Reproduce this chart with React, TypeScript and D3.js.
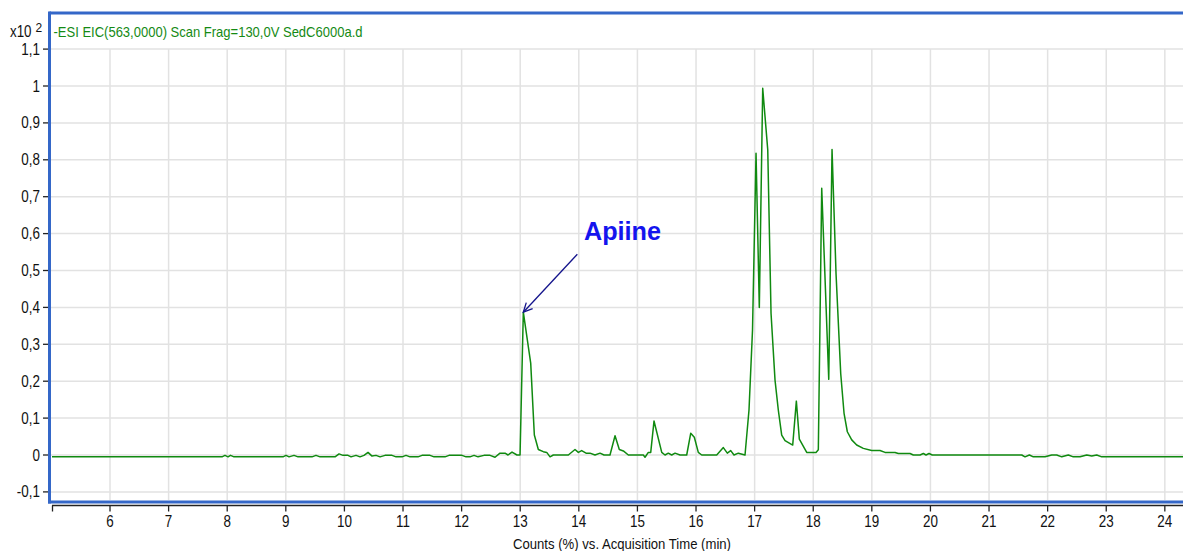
import React from "react";
import * as d3 from "d3";

// ---- data (x: acquisition time in min, y: counts x10^2) ----
const timesMin = [
  5.01, 7.911, 7.962, 8.014, 8.056, 8.116, 8.952, 9.003, 9.055, 9.14, 9.208, 9.447, 9.515, 9.584,
  9.84, 9.908, 9.976, 10.061, 10.113, 10.198, 10.266, 10.334, 10.403, 10.471, 10.539, 10.608,
  10.693, 10.812, 10.881, 10.983, 11.051, 11.119, 11.256, 11.324, 11.461, 11.529, 11.717, 11.785,
  12.007, 12.075, 12.143, 12.212, 12.28, 12.382, 12.485, 12.57, 12.655, 12.741, 12.792, 12.86,
  12.945, 12.997,
  13.053, 13.179, 13.241, 13.309, 13.394, 13.452, 13.509, 13.565, 13.821, 13.935, 13.992, 14.049,
  14.123, 14.191, 14.276, 14.362, 14.43, 14.532, 14.618, 14.691, 14.76, 14.845, 15.101, 15.13,
  15.186, 15.227, 15.283, 15.415, 15.471, 15.527, 15.585, 15.642, 15.727, 15.841, 15.91, 15.971,
  16.039, 16.097, 16.353, 16.466, 16.534, 16.592, 16.648, 16.722, 16.836,
  16.904, 16.964, 17.024, 17.08, 17.138, 17.224, 17.28, 17.348, 17.404, 17.462, 17.519, 17.65,
  17.712, 17.763, 17.889, 18.048, 18.087, 18.145, 18.265, 18.321, 18.389, 18.469, 18.526, 18.582,
  18.657, 18.742, 18.855, 18.998, 19.14, 19.225, 19.396, 19.452, 19.652, 19.708, 19.823, 19.879,
  19.925, 19.976, 20.032, 21.558, 21.614, 21.688, 21.756, 21.956, 22.07, 22.155, 22.241, 22.353,
  22.438, 22.553, 22.667, 22.753, 22.838, 22.923, 24.31,
];
const countsE2 = [
  -0.005, -0.005, -0.001, -0.005, -0.001, -0.005, -0.005, -0.001, -0.005, -0.001, -0.005, -0.005,
  -0.001, -0.005, -0.005, 0.003, -0.001, -0.001, -0.005, -0.001, -0.005, -0.001, 0.007, -0.003,
  -0.001, -0.005, -0.001, -0.001, -0.005, -0.005, -0.001, -0.005, -0.005, -0.001, -0.001, -0.005,
  -0.005, -0.001, -0.001, -0.005, -0.005, -0.001, -0.005, -0.001, -0.001, -0.006, 0.005, 0.005,
  0.0, 0.008, 0.0, 0.0,
  0.387, 0.249, 0.054, 0.015, 0.009, 0.007, -0.005, 0.0, 0.0, 0.015, 0.007, 0.012, 0.005, 0.005,
  0.0, 0.005, 0.0, 0.0, 0.052, 0.015, 0.011, 0.0, 0.0, -0.006, 0.007, 0.007, 0.092, 0.007, 0.0,
  0.005, 0.0, 0.005, 0.0, 0.0, 0.059, 0.048, 0.007, 0.0, 0.0, 0.02, 0.005, 0.012, 0.0, 0.005, 0.0,
  0.122, 0.339, 0.818, 0.4, 0.994, 0.827, 0.384, 0.203, 0.122, 0.054, 0.039, 0.027, 0.146, 0.043,
  0.007, 0.007, 0.014, 0.723, 0.205, 0.828, 0.492, 0.221, 0.113, 0.063, 0.041, 0.027, 0.018,
  0.012, 0.012, 0.007, 0.007, 0.004, 0.004, 0.0, 0.0, 0.004, 0.0, 0.004, 0.0, 0.0, -0.005, 0.0,
  -0.005, -0.005, 0.0, 0.0, -0.005, 0.0, -0.005, -0.005, 0.0, -0.003, 0.0, -0.005, -0.005,
];
const xTicks = [6, 7, 8, 9, 10, 11, 12, 13, 14, 15, 16, 17, 18, 19, 20, 21, 22, 23, 24];
const yTicks = [-0.1, 0, 0.1, 0.2, 0.3, 0.4, 0.5, 0.6, 0.7, 0.8, 0.9, 1.0, 1.1];
const yTickLabels = ["-0,1", "0", "0,1", "0,2", "0,3", "0,4", "0,5", "0,6", "0,7", "0,8", "0,9", "1", "1,1"];
const titleText = "-ESI EIC(563,0000) Scan Frag=130,0V SedC6000a.d";
const xAxisTitle = "Counts (%) vs. Acquisition Time (min)";
const annotationText = "Apiine";
const annotationTime = 13.053;
const annotationValue = 0.387;

const W = 1183;
const H = 551;
const FONT = "'Liberation Sans', Arial, sans-serif";
const NARROW = 0.84;

export default function App() {
  const x = d3.scaleLinear().domain([4.976, 24.31]).range([50, 1183]);
  const y = d3.scaleLinear().domain([-0.1, 1.1]).range([491.9, 49.1]);
  const pts: [number, number][] = timesMin.map((t, i) => [t, countsE2[i]]);
  const line = d3
    .line<[number, number]>()
    .x((d) => x(d[0]))
    .y((d) => y(d[1]));

  const ax = x(annotationTime);
  const ay = y(annotationValue);
  const sx = ax + 54;
  const sy = ay - 58;
  const ang = Math.atan2(sy - ay, sx - ax);
  const hl = 10;
  const h1 = [ax + hl * Math.cos(ang + 0.45), ay + hl * Math.sin(ang + 0.45)];
  const h2 = [ax + hl * Math.cos(ang - 0.45), ay + hl * Math.sin(ang - 0.45)];

  const axisY = 505.5;

  return (
    <svg
      width={W}
      height={H}
      style={{ position: "absolute", left: 0, top: 0, background: "#fff" }}
      fontFamily={FONT}
    >
      {/* grid */}
      <g stroke="#e2e2e2" strokeWidth={1.5}>
        {xTicks.map((t) => (
          <line key={"gx" + t} x1={x(t)} x2={x(t)} y1={y(1.1)} y2={500} />
        ))}
        {yTicks.map((v) => (
          <line key={"gy" + v} x1={51} x2={W} y1={y(v)} y2={y(v)} />
        ))}
      </g>

      {/* trace */}
      <path d={line(pts) || ""} fill="none" stroke="#108a10" strokeWidth={1.5} strokeLinejoin="round" />

      {/* frame */}
      <g stroke="#3467c8" strokeWidth={3} fill="none">
        <line x1={49.5} x2={W} y1={13} y2={13} />
        <line x1={49.5} x2={49.5} y1={11.5} y2={503.5} />
        <line x1={48} x2={W} y1={502} y2={502} />
      </g>

      {/* y axis ticks */}
      <g>
        {yTicks.map((v, i) => (
          <g key={"yt" + v}>
            <line x1={43} x2={48} y1={y(v)} y2={y(v)} stroke="#222" strokeWidth={1.3} />
            <text
              transform={`translate(40,${y(v) + 5.5}) scale(${NARROW},1)`}
              textAnchor="end"
              fontSize={16}
              fill="#111"
            >
              {yTickLabels[i]}
            </text>
          </g>
        ))}
      </g>

      {/* x axis */}
      <line x1={52} x2={W} y1={axisY} y2={axisY} stroke="#222" strokeWidth={1.5} />
      <line x1={52.5} x2={52.5} y1={axisY} y2={axisY + 6} stroke="#222" strokeWidth={1.3} />
      {xTicks.map((t) => (
        <g key={"xt" + t}>
          <line x1={x(t)} x2={x(t)} y1={axisY} y2={axisY + 6} stroke="#222" strokeWidth={1.3} />
          <text
            transform={`translate(${x(t)},527) scale(${NARROW},1)`}
            textAnchor="middle"
            fontSize={16}
            fill="#111"
          >
            {t}
          </text>
        </g>
      ))}
      <text x={513} y={549} fontSize={15} fill="#111" textLength={218} lengthAdjust="spacingAndGlyphs">
        {xAxisTitle}
      </text>

      {/* scale label */}
      <text x={10} y={37} fontSize={16} fill="#111" textLength={21.5} lengthAdjust="spacingAndGlyphs">
        x10
      </text>
      <text x={35.5} y={32} fontSize={12} fill="#111">
        2
      </text>

      {/* title */}
      <text x={53.5} y={36.5} fontSize={15} fill="#148a14" textLength={309} lengthAdjust="spacingAndGlyphs">
        {titleText}
      </text>

      {/* annotation */}
      <g stroke="#14148c" strokeWidth={1.3} fill="none">
        <line x1={sx} y1={sy} x2={ax} y2={ay} />
        <polyline points={`${h1[0]},${h1[1]} ${ax},${ay} ${h2[0]},${h2[1]}`} />
      </g>
      <text x={584} y={240} fontSize={26} fontWeight="bold" fill="#1414ee" textLength={77} lengthAdjust="spacingAndGlyphs">
        {annotationText}
      </text>
    </svg>
  );
}
